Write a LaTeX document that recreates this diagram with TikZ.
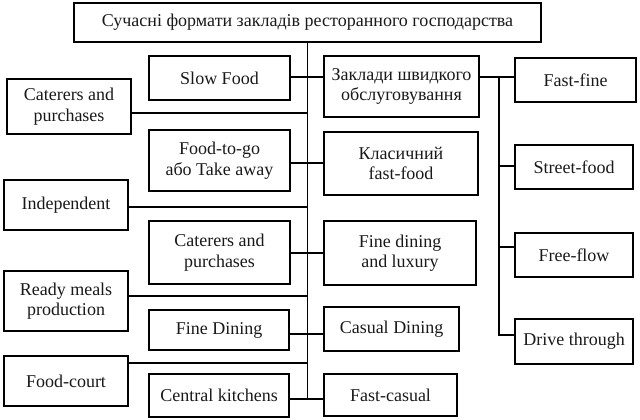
\documentclass[tikz,border=0pt]{standalone}
\usepackage{fontspec}
\setmainfont{Liberation Serif}
\usepackage{tikz}
\usetikzlibrary{positioning}

\begin{document}
\begin{tikzpicture}[x=1pt,y=-1pt,
  box/.style={draw=black,line width=1.1pt,align=center,inner sep=0pt,
    font=\fontsize{18}{20.5}\selectfont,text=black!90},
  link/.style={draw=black,line width=1.1pt}]
\useasboundingbox (0,0) rectangle (640,420);

% Title
\node[box,minimum width=467,minimum height=39] (title) at (307.5,22.5) {Сучасні формати закладів ресторанного господарства};

% Outer left column
\node[box,minimum width=124,minimum height=55] (caterA) at (69,106.5) {Caterers and\\purchases};
\node[box,minimum width=124,minimum height=50] (indep) at (66,205) {Independent};
\node[box,minimum width=124,minimum height=60] (ready) at (66,301) {Ready meals\\production};
\node[box,minimum width=124,minimum height=50] (court) at (66,381) {Food-court};

% Inner left column
\node[box,minimum width=141,minimum height=44] (slow) at (219.5,78) {Slow Food};
\node[box,minimum width=141,minimum height=61] (togo) at (219.5,160.5) {Food-to-go\\або Take away};
\node[box,minimum width=141,minimum height=63] (caterB) at (219.5,252.5) {Caterers and\\purchases};
\node[box,minimum width=140,minimum height=40] (fined) at (219,330) {Fine Dining};
\node[box,minimum width=140,minimum height=43] (central) at (219,395.5) {Central kitchens};

% Middle right column
\node[box,minimum width=155,minimum height=61] (quick) at (401.5,86.5) {Заклади швидкого\\обслуговування};
\node[box,minimum width=154,minimum height=63] (classic) at (401,163.5) {Класичний\\fast-food};
\node[box,minimum width=152,minimum height=64] (luxury) at (400,253) {Fine dining\\and luxury};
\node[box,minimum width=135,minimum height=44] (casual) at (391.5,329) {Casual Dining};
\node[box,minimum width=133,minimum height=42] (fcasual) at (390.5,395) {Fast-casual};

% Fast-food formats
\node[box,minimum width=121,minimum height=44] (ffine) at (575.5,80) {Fast-fine};
\node[box,minimum width=118,minimum height=44] (street) at (574,167) {Street-food};
\node[box,minimum width=118,minimum height=44] (fflow) at (574,255) {Free-flow};
\node[box,minimum width=118,minimum height=45] (drive) at (574,341.5) {Drive through};

% junctions on the trunk
\coordinate (j1) at (307.5,77);
\coordinate (j2) at (307.5,113);
\coordinate (j3) at (307.5,163);
\coordinate (j4) at (307.5,207);
\coordinate (j5) at (307.5,253);
\coordinate (j6) at (307.5,296);
\coordinate (j7) at (307.5,334);
\coordinate (j8) at (307.5,363);
\coordinate (j9) at (307.5,399);
% junctions on the fast-food branch
\coordinate (k1) at (499,77);
\coordinate (k2) at (499,166);
\coordinate (k3) at (499,247);
\coordinate (k4) at (499,335);

% trunk
\draw[link] (title.south) -- (j9);
\draw[link] (slow.east |- j1) -- (quick.west |- j1);
\draw[link] (caterA.east |- j2) -- (j2);
\draw[link] (togo.east |- j3) -- (classic.west |- j3);
\draw[link] (indep.east |- j4) -- (j4);
\draw[link] (caterB.east |- j5) -- (luxury.west |- j5);
\draw[link] (ready.east |- j6) -- (j6);
\draw[link] (fined.east |- j7) -- (casual.west |- j7);
\draw[link] (court.east |- j8) -- (j8);
\draw[link] (central.east |- j9) -- (fcasual.west |- j9);

% fast-food branch
\draw[link] (quick.east |- k1) -- (ffine.west |- k1);
\draw[link] (k1) -- (k4) -- (drive.west |- k4);
\draw[link] (k2) -- (street.west |- k2);
\draw[link] (k3) -- (fflow.west |- k3);
\end{tikzpicture}
\end{document}
